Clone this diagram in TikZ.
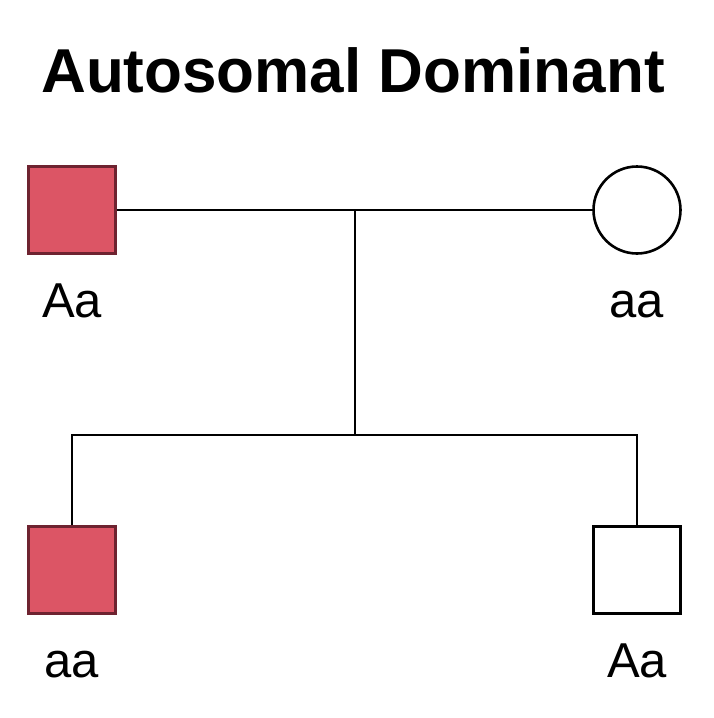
\documentclass[tikz,border=0pt]{standalone}
\usepackage{fontspec}
\setmainfont{Liberation Sans}
\usetikzlibrary{positioning}
\definecolor{affected}{RGB}{220,85,101}
\definecolor{affectedline}{RGB}{110,35,48}
\tikzset{male/.style={draw,line width=2.6pt,minimum size=87pt,inner sep=0pt},
  female/.style={draw,circle,line width=2.6pt,minimum size=87pt,inner sep=0pt},
  ill/.style={fill=affected,draw=affectedline},
  geno/.style={anchor=base,font=\fontsize{49}{50}\selectfont},
  link/.style={line width=2.2pt}}

\begin{document}
\begin{tikzpicture}[x=1pt,y=-1pt]
\useasboundingbox (0,0) rectangle (714,718);
\node[anchor=base,font=\bfseries\fontsize{62}{64}\selectfont] (title) at (353,92) {Autosomal Dominant};
% parents
\node[male,ill] (father) at (72,210) {};
\node[female] (mother) at (637,210) {};
\node[geno] (gfather) at (72,317) {Aa};
\node[geno] (gmother) at (637,317) {aa};
% children
\node[male,ill] (son1) at (72,570) {};
\node[male] (son2) at (637,570) {};
\node[geno] (gson1) at (72,677) {aa};
\node[geno] (gson2) at (637,677) {Aa};
% lines
\coordinate (mate) at (355,210);
\coordinate (sib) at (355,435);
\draw[link] (father) -- (mother);
\draw[link] (mate) -- (sib);
\draw[link] (son1.north) |- (sib) -| (son2.north);
\end{tikzpicture}
\end{document}
